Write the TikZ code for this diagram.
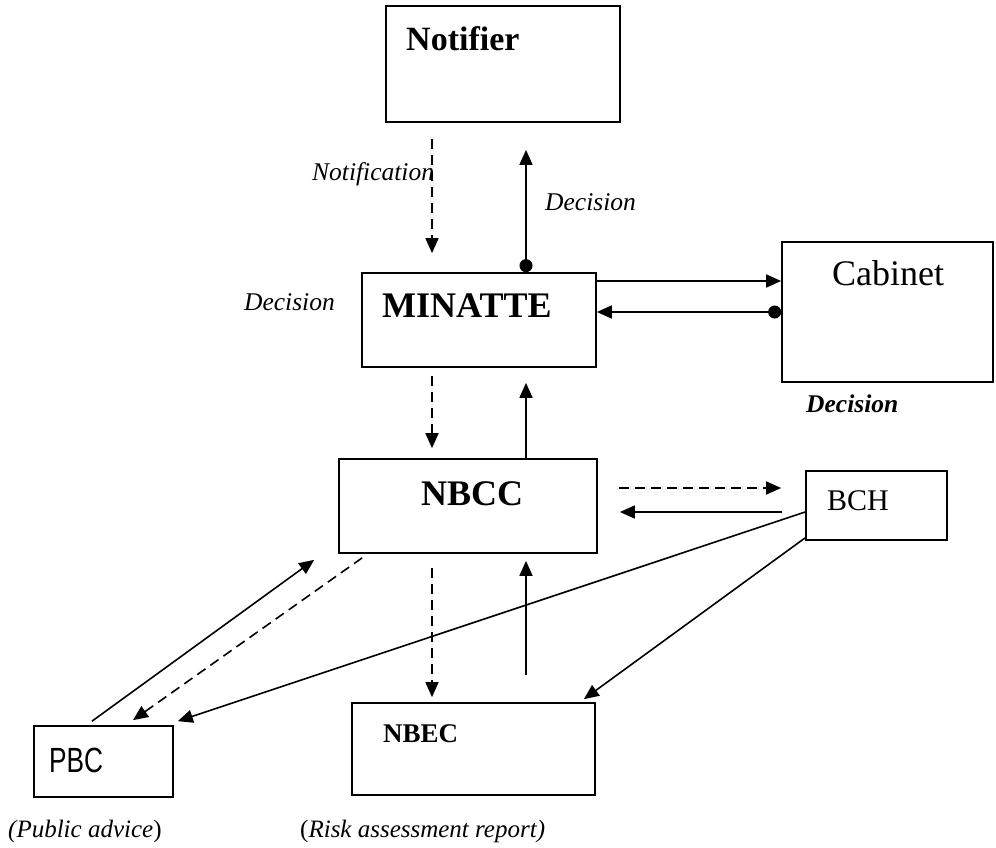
\documentclass[tikz,border=0pt]{standalone}
\usepackage{fontspec}
\setmainfont{Liberation Serif}
\newfontfamily\arialfont{Liberation Sans}
\usetikzlibrary{arrows.meta}

\begin{document}
\begin{tikzpicture}[x=1pt,y=-1pt,
  box/.style={draw,line width=1.7pt,inner sep=0pt},
  txt/.style={inner sep=0pt,anchor=base west},
  flow/.style={line width=1.6pt,-{Triangle[length=15pt,width=13pt]}},
  dflow/.style={flow,dash pattern=on 10pt off 6pt},
  dotflow/.style={line width=1.6pt,{Circle[length=13pt]}-{Triangle[length=15pt,width=13pt]}}]
\useasboundingbox (0,0) rectangle (996,847);
\node[box,minimum width=234pt,minimum height=116pt] (notifier) at (503,64) {};
\node[box,minimum width=234pt,minimum height=94pt] (minatte) at (479,320) {};
\node[box,minimum width=211pt,minimum height=140pt] (cabinet) at (887.5,312) {};
\node[box,minimum width=258pt,minimum height=94pt] (nbcc) at (468,506) {};
\node[box,minimum width=141pt,minimum height=69pt] (bch) at (876.5,505.5) {};
\node[box,minimum width=243pt,minimum height=92pt] (nbec) at (473.5,749) {};
\node[box,minimum width=139pt,minimum height=71pt] (pbc) at (103.5,761.5) {};
\node[txt,font=\fontsize{34}{40}\selectfont\bfseries] (notifiertxt) at (406,50) {Notifier};
\node[txt,font=\fontsize{36}{40}\selectfont\bfseries] (minattetxt) at (382,317) {MINATTE};
\node[txt,font=\fontsize{36}{40}\selectfont] (cabinettxt) at (832,285) {Cabinet};
\node[txt,font=\fontsize{36}{40}\selectfont\bfseries] (nbcctxt) at (421,505) {NBCC};
\node[txt,font=\fontsize{30}{36}\selectfont] (bchtxt) at (827,510) {BCH};
\node[txt,font=\fontsize{27}{32}\selectfont\bfseries] (nbectxt) at (383,742) {NBEC};
\node[txt,font=\fontsize{35}{40}\selectfont\arialfont] (pbctxt) at (49,772) {\scalebox{0.75}[1]{PBC}};
\node[txt,font=\fontsize{25.5}{30}\selectfont\itshape] (notification) at (312,180) {Notification};
\node[txt,font=\fontsize{25.5}{30}\selectfont\itshape] (decisionup) at (545,210) {Decision};
\node[txt,font=\fontsize{25.5}{30}\selectfont\itshape,anchor=base east] (decisionleft) at (335,310) {Decision};
\node[txt,font=\fontsize{25.5}{30}\selectfont\bfseries\itshape] (decisioncab) at (806,412) {Decision};
\node[txt,font=\fontsize{25}{30}\selectfont] (publicadvice) at (8,837) {\textit{(Public advice})};
\node[txt,font=\fontsize{25}{30}\selectfont] (riskreport) at (300,837) {(\textit{Risk assessment report)}};
\draw[dflow] ([xshift=-71pt,yshift=-16pt]notifier.south) -- ([xshift=-47pt,yshift=19pt]minatte.north);
\draw[dotflow] ([xshift=47pt]minatte.north) -- ([xshift=23pt,yshift=-27pt]notifier.south);
\draw[flow] ([yshift=39pt]minatte.east) -- ([yshift=39pt]minatte.east -| cabinet.west);
\draw[dotflow] (cabinet.west) -- (cabinet.west -| minatte.east);
\draw[dflow] ([xshift=-47pt,yshift=-8pt]minatte.south) -- ([xshift=-36pt,yshift=10pt]nbcc.north);
\draw[flow] ([xshift=58pt]nbcc.north) -- ([xshift=47pt,yshift=-15pt]minatte.south);
\draw[dflow] ([xshift=21pt,yshift=18pt]nbcc.east) -- ([xshift=-24pt,yshift=17.5pt]bch.west);
\draw[flow] ([xshift=-23pt,yshift=-6.5pt]bch.west) -- ([xshift=22pt,yshift=-6pt]nbcc.east);
\draw[dflow] ([xshift=-36pt,yshift=-14pt]nbcc.south) -- ([xshift=-41.5pt,yshift=5pt]nbec.north);
\draw[flow] ([xshift=52.5pt,yshift=27pt]nbec.north) -- ([xshift=58pt,yshift=-7pt]nbcc.south);
\draw[flow] ([xshift=-11.5pt,yshift=4pt]pbc.north) -- ([xshift=-24pt,yshift=-6pt]nbcc.south west);
\draw[dflow] ([xshift=24pt,yshift=-4pt]nbcc.south west) -- ([xshift=29.5pt,yshift=5pt]pbc.north);
\draw[flow] ([yshift=-6.5pt]bch.west) -- ([xshift=4pt,yshift=4pt]pbc.north east);
\draw[flow] ([yshift=3pt]bch.south west) -- ([xshift=-12pt,yshift=3pt]nbec.north east);
\end{tikzpicture}
\end{document}
